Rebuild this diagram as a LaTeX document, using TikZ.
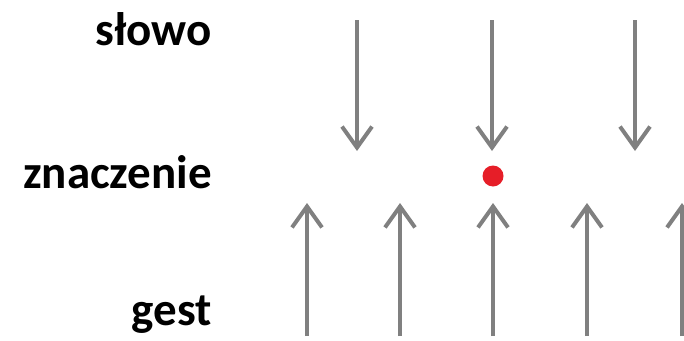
\documentclass[tikz,border=0pt]{standalone}
\usepackage{fontspec}
\setmainfont{Carlito}
\usetikzlibrary{arrows.meta}
\definecolor{arrgray}{RGB}{128,128,128}
\definecolor{dotred}{RGB}{230,30,40}
\tikzset{
  lbl/.style={anchor=base east, inner sep=0pt, font=\fontsize{47}{50}\selectfont\bfseries},
  arr/.style={draw=arrgray, line width=4pt, -{Straight Barb[length=21pt,width=30pt]}},
}
\begin{document}
\begin{tikzpicture}[x=1pt,y=-1pt]
\useasboundingbox (0,0) rectangle (684,340);
\clip (0,0) rectangle (684,340);
\node[lbl] (slowo) at (212,45) {słowo};
\node[lbl] (znaczenie) at (212,188) {znaczenie};
\node[lbl] (gest) at (212,325) {gest};
% down arrows
\foreach \i/\x in {1/357,2/492,3/635}{
  \coordinate (d\i s) at (\x,20);
  \coordinate (d\i e) at (\x,151);
  \draw[arr] (d\i s) -- (d\i e);
}
% up arrows
\foreach \i/\x in {1/307,2/400,3/493,4/587,5/682}{
  \coordinate (u\i s) at (\x,336);
  \coordinate (u\i e) at (\x,203);
  \draw[arr] (u\i s) -- (u\i e);
}
\fill[dotred] (493,176) circle (10.5) node (dot) {};
\end{tikzpicture}
\end{document}
